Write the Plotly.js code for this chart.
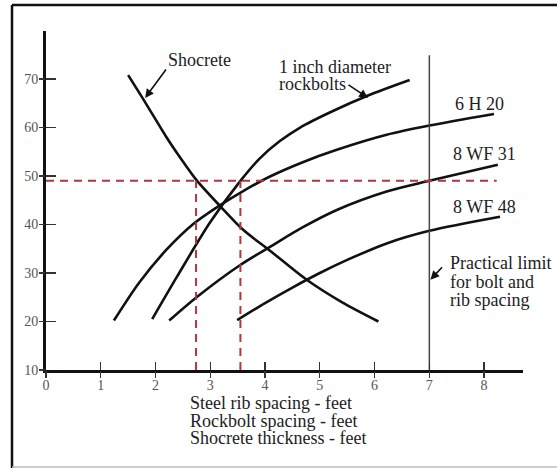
<!DOCTYPE html>
<html>
<head>
<meta charset="utf-8">
<script src="https://cdn.plot.ly/plotly-3.0.1.min.js"></script>
<style>html,body{margin:0;padding:0;background:#fff;}#chart{width:557px;height:468px;}</style>
</head>
<body>
<div id="chart"></div>
<script>
// ---- data ----
const xTickVals = [0, 1, 2, 3, 4, 5, 6, 7, 8];
const xTickText = ["0", "1", "2", "3", "4", "5", "6", "7", "8"];
const yTickVals = [10, 20, 30, 40, 50, 60, 70];
const yTickText = ["10", "20", "30", "40", "50", "60", "70"];

const shocreteX = [1.50, 1.80, 2.20, 2.50, 2.76, 3.18, 3.60, 4.09, 4.76, 5.40, 6.07];
const shocreteY = [70.8, 65.4, 58.0, 53.0, 49.0, 43.8, 38.9, 34.6, 28.6, 24.0, 20.0];

const rockboltX = [1.94, 2.40, 3.00, 3.55, 3.90, 4.27, 4.64, 5.20, 5.88, 6.64];
const rockboltY = [20.5, 29.4, 40.5, 49.0, 53.6, 57.2, 60.0, 63.2, 66.6, 69.8];

const h620X = [1.24, 1.70, 2.20, 2.70, 3.18, 3.60, 4.09, 4.70, 5.31, 6.22, 7.00, 8.18];
const h620Y = [20.2, 28.0, 34.8, 40.2, 44.0, 46.9, 49.9, 52.9, 55.4, 58.5, 60.4, 62.8];

const wf31X = [2.25, 2.75, 3.54, 4.09, 4.70, 5.31, 6.22, 7.00, 8.25];
const wf31Y = [20.2, 25.0, 31.6, 35.4, 39.5, 43.0, 46.8, 49.0, 52.3];

const wf48X = [3.49, 4.00, 4.50, 5.00, 5.50, 6.22, 7.00, 8.29];
const wf48Y = [20.3, 23.8, 27.0, 30.0, 32.7, 36.1, 38.7, 41.6];

const limitX = [7, 7];
const limitY = [10, 74.9];

const guideLevel = 49;
const guideHX = [0, 8.23];
const guideVX = [2.74, 3.55];

const shocreteLabel = ["Shocrete"];
const rockboltLabel = ["1 inch diameter", "rockbolts"];
const ribLabels = ["6 H 20", "8 WF 31", "8 WF 48"];
const limitLabel = ["Practical limit", "for bolt and", "rib spacing"];
const xTitleLines = ["Steel rib spacing - feet", "Rockbolt spacing - feet", "Shocrete thickness - feet"];

// ---- build ----
const FONT = "Liberation Serif, Times New Roman, serif";
const curveLine = {color: "#111", width: 2.6};
const redDash = {color: "#b8333a", width: 2, dash: "8px,6px"};

const traces = [];
[[shocreteX, shocreteY], [rockboltX, rockboltY], [h620X, h620Y], [wf31X, wf31Y], [wf48X, wf48Y]].forEach(d => {
  traces.push({x: d[0], y: d[1], mode: "lines", line: Object.assign({shape: "spline", smoothing: 0.85}, curveLine), hoverinfo: "skip"});
});
traces.push({x: limitX, y: limitY, mode: "lines", line: {color: "#444", width: 1.5}, hoverinfo: "skip"});
traces.push({x: guideHX, y: [guideLevel, guideLevel], mode: "lines", line: redDash, hoverinfo: "skip"});
guideVX.forEach(gx => {
  traces.push({x: [gx, gx], y: [10, guideLevel], mode: "lines", line: redDash, hoverinfo: "skip"});
});
// invisible traces to activate the overlay tick axes
traces.push({x: [0], y: [10], xaxis: "x2", yaxis: "y2", mode: "markers", marker: {opacity: 0}, hoverinfo: "skip"});
traces.push({x: [0], y: [10], xaxis: "x3", yaxis: "y3", mode: "markers", marker: {opacity: 0}, hoverinfo: "skip"});

const xRange = [0, 8.71];
const yRange = [10, 79.9];
const LSIZE = 18;

function arrow(hx, hy, ax, ay) {
  return {x: hx, y: hy, xref: "x", yref: "y", text: "", showarrow: true, ax: ax, ay: ay,
          arrowhead: 2, arrowsize: 1.1, arrowwidth: 1.6, arrowcolor: "#111"};
}
function label(txt, x, y, anchor) {
  return {x: x, y: y, xref: "x", yref: "y", text: txt, showarrow: false, xanchor: anchor || "center",
          yanchor: "middle", font: {family: FONT, size: LSIZE, color: "#222"}};
}

const annotations = [
  label(shocreteLabel[0], 2.81, 73.9),
  arrow(1.81, 66.1, 22, -30),
  label(rockboltLabel[0], 4.22, 72.5, "left"),
  label(rockboltLabel[1], 4.22, 69.0, "left"),
  arrow(5.88, 66.1, -21, -14),
  label(ribLabels[0], 7.91, 64.8),
  label(ribLabels[1], 8.01, 54.5),
  label(ribLabels[2], 8.00, 43.6),
  label(limitLabel[0], 7.34, 32.1, "left"),
  label(limitLabel[1], 7.34, 28.1, "left"),
  label(limitLabel[2], 7.34, 24.4, "left"),
  arrow(7.02, 28.6, 13, -14)
];
const titleYs = [403, 421, 438];
xTitleLines.forEach((t, i) => {
  annotations.push({x: (188 - 46) / 477, y: (370 - titleYs[i]) / 339, xref: "paper", yref: "paper",
    text: t, showarrow: false, xanchor: "left", yanchor: "middle", font: {family: FONT, size: LSIZE, color: "#222"}});
});

const tickFont = {family: FONT, size: 14, color: "#555"};
const tickAxis = (range, over, anchor, side, ticks, len, vals) => ({
  range: range, overlaying: over, anchor: anchor, side: side, showgrid: false, zeroline: false, showline: false,
  ticks: ticks, ticklen: len, tickwidth: 1.3, tickcolor: "#333", tickvals: vals, showticklabels: false, fixedrange: true
});
const layout = {
  width: 557, height: 468,
  margin: {l: 46, r: 34, t: 31, b: 98, pad: 0},
  paper_bgcolor: "#fff", plot_bgcolor: "#fff",
  showlegend: false,
  hovermode: false,
  xaxis: {range: xRange, showgrid: false, zeroline: false, showline: true, linewidth: 3, linecolor: "#111",
          ticks: "", tickvals: xTickVals, ticktext: xTickText, tickfont: tickFont, fixedrange: true},
  yaxis: {range: yRange, showgrid: false, zeroline: false, showline: true, linewidth: 3, linecolor: "#111",
          ticks: "", ticklabelstandoff: 2, tickvals: yTickVals, ticktext: yTickText, tickfont: tickFont, fixedrange: true},
  xaxis2: tickAxis(xRange, "x", "y", "bottom", "inside", 8, xTickVals),
  yaxis2: tickAxis(yRange, "y", "x", "left", "inside", 10, yTickVals),
  xaxis3: tickAxis(xRange, "x", "y", "bottom", "outside", 7, xTickVals),
  yaxis3: tickAxis(yRange, "y", "x", "left", "outside", 6, yTickVals),
  annotations: annotations,
  shapes: [
    {type: "line", xref: "paper", yref: "paper", x0: (12 - 46) / 477, x1: (557 - 46) / 477, y0: (370 - 5) / 339, y1: (370 - 5) / 339, line: {color: "#111", width: 2.5}},
    {type: "line", xref: "paper", yref: "paper", x0: (12 - 46) / 477, x1: (12 - 46) / 477, y0: (370 - 5) / 339, y1: (370 - 468) / 339, line: {color: "#111", width: 2.5}},
    {type: "line", xref: "paper", yref: "paper", x0: (12 - 46) / 477, x1: (557 - 46) / 477, y0: (370 - 467) / 339, y1: (370 - 467) / 339, line: {color: "#bbb", width: 1.5}}
  ]
};

Plotly.newPlot("chart", traces, layout, {staticPlot: true, displayModeBar: false});
</script>
</body>
</html>
